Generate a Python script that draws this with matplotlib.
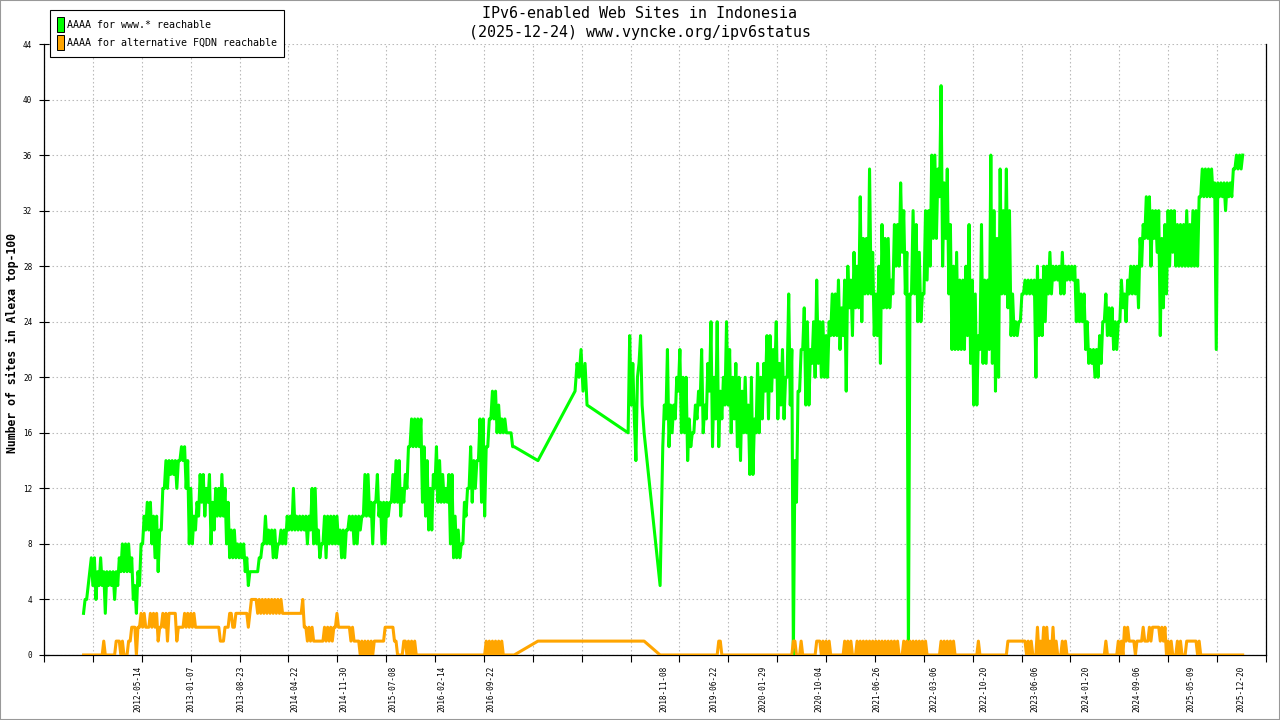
import matplotlib
matplotlib.use("Agg")
import matplotlib.pyplot as plt
import matplotlib.dates as mdates
from matplotlib.patches import Rectangle
from matplotlib.ticker import NullFormatter
import numpy as np
import pandas as pd

# ---- data
# each 14-day bin keeps the low and high value seen in that bin (the source is daily and very noisy)
start_1 = "2011-09-13"
green_lo_1 = [3, 4, 6, 5, 4, 5, 5, 3, 5, 5,
              4, 5, 6, 6, 6, 6, 4, 3, 5, 8,
              9, 9, 8, 7, 6, 9, 12, 12, 13, 13,
              12, 14, 14, 12, 8, 8, 9, 10, 11, 10,
              11, 8, 9, 10, 10, 10, 8, 7, 7, 7,
              7, 7, 6, 5, 6, 6, 6, 7, 8, 8,
              8, 7, 7, 8, 8, 8, 9, 9, 9, 9,
              9, 9, 8, 9, 8, 8, 7, 8, 7, 8,
              8, 8, 8, 7, 7, 9, 9, 8, 8, 9,
              10, 10, 10, 8, 11, 10, 8, 8, 10, 11,
              11, 11, 10, 11, 12, 15, 15, 15, 15, 11,
              10, 9, 9, 12, 11, 11, 11, 11, 8, 7,
              7, 7, 8, 10, 12, 11, 12, 14, 11, 10,
              15, 17, 17, 16, 16, 16, 16, 16, 15]
green_hi_1 = [4, 5, 7, 7, 6, 7, 6, 6, 6, 6,
              6, 7, 8, 8, 8, 7, 5, 6, 8, 10,
              11, 11, 10, 10, 9, 12, 14, 14, 14, 14,
              14, 15, 15, 14, 12, 10, 11, 13, 13, 12,
              13, 11, 12, 12, 13, 12, 11, 9, 9, 8,
              8, 8, 7, 6, 6, 6, 7, 8, 10, 9,
              9, 9, 8, 9, 9, 10, 10, 12, 10, 10,
              10, 10, 10, 12, 12, 9, 8, 10, 10, 10,
              10, 10, 9, 9, 9, 10, 10, 10, 10, 10,
              13, 13, 11, 11, 13, 11, 11, 11, 11, 13,
              14, 14, 12, 13, 15, 17, 17, 17, 17, 15,
              14, 12, 13, 15, 14, 13, 12, 13, 13, 10,
              9, 8, 11, 12, 15, 14, 14, 17, 17, 15,
              17, 19, 19, 18, 17, 17, 16, 16, 15]

orange_lo_1 = [0, 0, 0, 0, 0, 0, 0, 0, 0, 0,
               0, 1, 0, 0, 0, 1, 2, 0, 2, 2,
               2, 2, 2, 2, 1, 2, 2, 1, 3, 3,
               1, 2, 2, 2, 2, 2, 2, 2, 2, 2,
               2, 2, 2, 2, 1, 1, 2, 3, 2, 3,
               3, 3, 3, 2, 4, 4, 3, 3, 3, 3,
               3, 3, 3, 3, 3, 3, 3, 3, 3, 3,
               3, 2, 1, 1, 1, 1, 1, 1, 1, 1,
               1, 2, 2, 2, 2, 2, 1, 1, 1, 0,
               0, 0, 0, 0, 1, 1, 1, 2, 2, 2,
               1, 0, 0, 1, 0, 0, 0, 0, 0, 0,
               0, 0, 0, 0, 0, 0, 0, 0, 0, 0,
               0, 0, 0, 0, 0, 0, 0, 0, 0, 0,
               0, 0, 0, 0, 0, 0, 0, 0, 0]
orange_hi_1 = [0, 0, 0, 0, 0, 0, 1, 0, 0, 0,
               1, 1, 1, 0, 1, 2, 2, 2, 3, 3,
               2, 3, 3, 3, 2, 3, 3, 3, 3, 3,
               2, 2, 3, 3, 3, 3, 2, 2, 2, 2,
               2, 2, 2, 2, 1, 2, 2, 3, 2, 3,
               3, 3, 3, 3, 4, 4, 4, 4, 4, 4,
               4, 4, 4, 4, 3, 3, 3, 3, 3, 3,
               4, 2, 2, 2, 1, 1, 1, 2, 2, 2,
               2, 3, 2, 2, 2, 2, 2, 1, 1, 1,
               1, 1, 1, 1, 1, 1, 1, 2, 2, 2,
               1, 0, 0, 1, 1, 1, 1, 0, 0, 0,
               0, 0, 0, 0, 0, 0, 0, 0, 0, 0,
               0, 0, 0, 0, 0, 0, 0, 0, 0, 1,
               1, 1, 1, 1, 1, 0, 0, 0, 0]

# sparse samples in the 2017-2018 gap
green_gap_dates = ["2017-04-20", "2017-10-04", "2017-10-13", "2017-10-22", "2017-10-31",
                   "2017-11-09", "2017-11-18", "2017-11-27", "2018-05-31", "2018-06-07",
                   "2018-06-14", "2018-06-21", "2018-06-28", "2018-07-05", "2018-07-12",
                   "2018-07-19", "2018-07-26", "2018-08-02", "2018-08-11", "2018-10-22"]
green_gap_vals = [14, 19, 21, 20, 22, 19, 21, 18, 16, 23,
                  18, 21, 17, 14, 20, 21, 23, 18, 16, 5]
orange_gap_dates = ["2017-04-20", "2018-08-11", "2018-10-22"]
orange_gap_vals = [1, 1, 0]

start_2 = "2018-11-03"
green_lo_2 = [15, 17, 15, 16, 17, 19, 16, 16, 14, 15,
              16, 17, 18, 16, 17, 19, 15, 17, 15, 17,
              18, 18, 16, 17, 15, 14, 16, 16, 13, 13,
              16, 16, 17, 19, 17, 19, 20, 17, 18, 17,
              20, 18, 0, 11, 19, 22, 18, 18, 21, 20,
              21, 20, 20, 20, 23, 23, 23, 22, 23, 19,
              25, 23, 25, 25, 24, 26, 26, 26, 23, 23,
              21, 25, 25, 25, 26, 28, 28, 29, 26, 0,
              26, 26, 24, 24, 26, 27, 28, 30, 30, 33,
              28, 30, 26, 22, 22, 22, 22, 22, 23, 21,
              18, 18, 22, 21, 21, 22, 21, 19, 20, 26,
              26, 25, 23, 23, 23, 24, 26, 26, 26, 26,
              20, 23, 23, 24, 26, 26, 27, 27, 26, 26,
              27, 27, 27, 24, 24, 24, 22, 21, 21, 20,
              20, 21, 24, 23, 23, 22, 22, 24, 25, 24,
              26, 26, 26, 25, 28, 30, 30, 28, 30, 29,
              23, 25, 26, 28, 29, 28, 28, 28, 28, 28,
              28, 28, 28, 33, 33, 33, 33, 33, 22, 33,
              33, 32, 33, 33, 35, 35, 35]
green_hi_2 = [18, 22, 18, 18, 20, 22, 20, 20, 17, 16,
              18, 19, 22, 18, 21, 24, 20, 24, 19, 20,
              24, 22, 20, 21, 20, 19, 20, 18, 20, 17,
              21, 20, 21, 23, 23, 22, 24, 21, 22, 20,
              26, 22, 14, 19, 22, 25, 24, 22, 24, 27,
              24, 24, 23, 24, 26, 26, 27, 25, 27, 28,
              27, 29, 28, 33, 30, 30, 35, 29, 26, 28,
              31, 30, 30, 27, 31, 31, 34, 32, 29, 26,
              32, 31, 29, 26, 32, 32, 36, 36, 35, 41,
              34, 35, 31, 28, 29, 27, 27, 28, 31, 27,
              26, 23, 31, 27, 27, 36, 32, 30, 35, 32,
              35, 32, 26, 24, 24, 26, 27, 27, 27, 27,
              28, 27, 28, 28, 29, 28, 28, 28, 29, 28,
              28, 28, 28, 27, 26, 26, 24, 22, 22, 22,
              23, 24, 26, 25, 25, 24, 24, 27, 26, 27,
              28, 28, 28, 30, 31, 33, 33, 32, 32, 32,
              30, 31, 32, 32, 32, 31, 31, 31, 32, 31,
              32, 32, 33, 35, 35, 35, 35, 34, 34, 34,
              34, 34, 34, 35, 36, 36, 36]

orange_lo_2 = [0, 0, 0, 0, 0, 0, 0, 0, 0, 0,
               0, 0, 0, 0, 0, 0, 0, 0, 1, 0,
               0, 0, 0, 0, 0, 0, 0, 0, 0, 0,
               0, 0, 0, 0, 0, 0, 0, 0, 0, 0,
               0, 0, 1, 0, 0, 0, 0, 0, 0, 0,
               1, 0, 0, 0, 0, 0, 0, 0, 0, 0,
               0, 0, 0, 0, 0, 0, 0, 0, 0, 0,
               0, 0, 0, 0, 0, 0, 0, 0, 0, 0,
               0, 0, 0, 0, 0, 0, 0, 0, 0, 0,
               0, 0, 0, 0, 0, 0, 0, 0, 0, 0,
               0, 0, 0, 0, 0, 0, 0, 0, 0, 0,
               0, 1, 1, 1, 1, 1, 1, 0, 0, 0,
               0, 0, 0, 0, 0, 0, 0, 0, 0, 0,
               0, 0, 0, 0, 0, 0, 0, 0, 0, 0,
               0, 0, 0, 0, 0, 0, 0, 0, 0, 1,
               1, 1, 0, 1, 1, 1, 1, 1, 2, 2,
               1, 1, 0, 0, 0, 0, 0, 0, 0, 1,
               1, 1, 0, 0, 0, 0, 0, 0, 0, 0,
               0, 0, 0, 0, 0, 0, 0]
orange_hi_2 = [0, 0, 0, 0, 0, 0, 0, 0, 0, 0,
               0, 0, 0, 0, 0, 0, 0, 0, 1, 0,
               0, 0, 0, 0, 0, 0, 0, 0, 0, 0,
               0, 0, 0, 0, 0, 0, 0, 0, 0, 0,
               0, 0, 1, 0, 1, 0, 0, 0, 0, 1,
               1, 1, 1, 1, 0, 0, 0, 0, 1, 1,
               1, 0, 1, 1, 1, 1, 1, 1, 1, 1,
               1, 1, 1, 1, 1, 1, 0, 1, 1, 1,
               1, 1, 1, 1, 1, 0, 0, 0, 0, 1,
               1, 1, 1, 1, 0, 0, 0, 0, 0, 0,
               0, 1, 0, 0, 0, 0, 0, 0, 0, 0,
               0, 1, 1, 1, 1, 1, 1, 1, 1, 0,
               2, 1, 2, 2, 1, 2, 1, 0, 1, 1,
               0, 0, 0, 0, 0, 0, 0, 0, 0, 0,
               0, 0, 1, 0, 0, 0, 1, 1, 2, 2,
               1, 1, 1, 1, 2, 1, 2, 2, 2, 2,
               2, 2, 1, 1, 0, 1, 1, 0, 1, 1,
               1, 1, 1, 0, 0, 0, 0, 0, 0, 0,
               0, 0, 0, 0, 0, 0, 0]

tick_labels = ["2012-05-14", "2013-01-07", "2013-08-23", "2014-04-22", "2014-11-30",
               "2015-07-08", "2016-02-14", "2016-09-22", "2018-11-08", "2019-06-22",
               "2020-01-29", "2020-10-04", "2021-06-26", "2022-03-06", "2022-10-20",
               "2023-06-06", "2024-01-20", "2024-09-06", "2025-05-09", "2025-12-20"]

title = "IPv6-enabled Web Sites in Indonesia\n(2025-12-24) www.vyncke.org/ipv6status"
legend_labels = ["AAAA for www.* reachable", "AAAA for alternative FQDN reachable"]
colors = ["#00ff00", "#ffa500"]


def banded(start, lo, hi):
    assert len(lo) == len(hi)
    t = pd.date_range(start, periods=len(lo), freq="14D")
    times = [d for pair in zip(t, t + pd.Timedelta(days=7)) for d in pair]
    vals = [v for pair in zip(lo, hi) for v in pair]
    return pd.Series(vals, index=times)


def series(lo1, hi1, gap_dates, gap_vals, lo2, hi2):
    s_gap = pd.Series(gap_vals, index=pd.to_datetime(gap_dates))
    return pd.concat([banded(start_1, lo1, hi1), s_gap, banded(start_2, lo2, hi2)]).sort_index()


green = series(green_lo_1, green_hi_1, green_gap_dates, green_gap_vals, green_lo_2, green_hi_2)
orange = series(orange_lo_1, orange_hi_1, orange_gap_dates, orange_gap_vals, orange_lo_2, orange_hi_2)

W, H = 1280, 720
MONO = "DejaVu Sans Mono"
fig = plt.figure(figsize=(W / 100, H / 100), dpi=100)
fig.patch.set_facecolor("white")
ax = fig.add_axes([44 / W, (H - 655) / H, (1266 - 44) / W, (655 - 44) / H])

ax.plot(green.index, green.values, color=colors[0], lw=2.2, zorder=3)
ax.plot(orange.index, orange.values, color=colors[1], lw=2.2, zorder=4)

xmin = mdates.date2num(pd.Timestamp("2011-03-19"))
xmax = mdates.date2num(pd.Timestamp("2026-04-11"))
ax.set_xlim(xmin, xmax)
ax.set_ylim(0, 44)

# regular major ticks carry the grid, minor ticks carry the date labels
ax.set_xticks(np.linspace(xmin, xmax, 26))
ax.xaxis.set_major_formatter(NullFormatter())
ax.set_xticks(mdates.date2num(pd.to_datetime(tick_labels)), minor=True)
ax.set_xticklabels(tick_labels, minor=True, rotation=90, fontsize=5.6, family=MONO)
ax.tick_params(axis="x", which="major", direction="out", length=5, width=0.8, color="black")
ax.tick_params(axis="x", which="minor", length=0, pad=7.5)

ax.set_yticks(range(0, 45, 4))
ax.set_yticklabels([str(v) for v in range(0, 45, 4)], fontsize=5.5, family=MONO)
ax.tick_params(axis="y", direction="inout", length=7, width=0.8, pad=5)

ax.grid(True, which="major", color="#bbbbbb", linestyle=(0, (1.4, 2.2)), linewidth=0.8)
ax.set_axisbelow(True)
ax.spines["top"].set_visible(False)
for side in ["left", "right", "bottom"]:
    ax.spines[side].set_color("black")
    ax.spines[side].set_linewidth(0.9)

fig.text(640 / W, 1 - 23 / H, title, ha="center", va="center", family=MONO,
         fontsize=10.8, linespacing=1.25)
fig.text(12 / W, 1 - 343 / H, "Number of sites in Alexa top-100", rotation=90,
         ha="center", va="center", family=MONO, fontweight="bold", fontsize=8.3)


# legend box drawn in figure pixels
def fx(x):
    return x / W


def fy(y):
    return 1 - y / H


fig.add_artist(Rectangle((fx(50), fy(57)), fx(284) - fx(50), fy(10) - fy(57),
                         transform=fig.transFigure, facecolor="white", edgecolor="black", lw=0.8))
for k, (lab, col) in enumerate(zip(legend_labels, colors)):
    top = 17 + 18 * k
    fig.add_artist(Rectangle((fx(57), fy(top + 15)), fx(64) - fx(57), fy(top) - fy(top + 15),
                             transform=fig.transFigure, facecolor=col, edgecolor="black", lw=0.7))
    fig.text(fx(67), fy(top + 8), lab, ha="left", va="center", family=MONO, fontsize=7.2)

# grey frame around the picture
fig.add_artist(Rectangle((0, 0), 1, 1, transform=fig.transFigure, facecolor="none",
                         edgecolor="#999999", lw=1.5))

fig.savefig("out.png", dpi=100)
